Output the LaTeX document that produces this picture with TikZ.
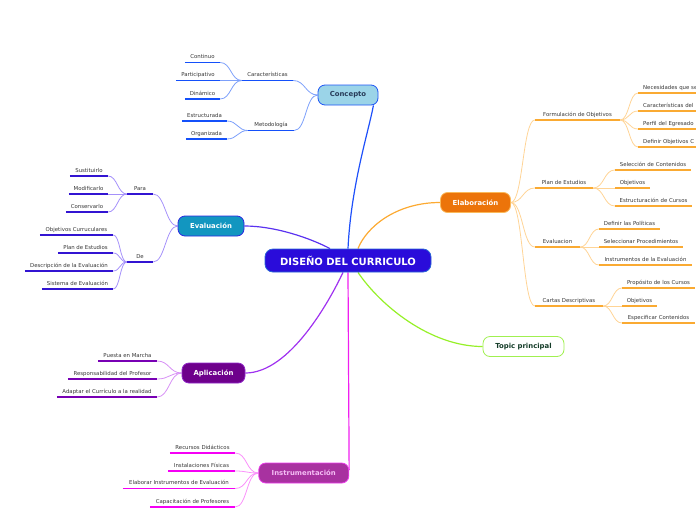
\documentclass[tikz,border=0pt]{standalone}
\usepackage{fontspec}
\setmainfont{DejaVu Sans}
\usetikzlibrary{backgrounds}
\definecolor{cenfill}{RGB}{42,12,218}
\definecolor{cenline}{RGB}{40,100,215}
\definecolor{konfill}{RGB}{155,212,232}
\definecolor{konline}{RGB}{30,85,245}
\definecolor{kontext}{RGB}{40,60,90}
\definecolor{elafill}{RGB}{236,116,10}
\definecolor{elaline}{RGB}{250,185,90}
\definecolor{evafill}{RGB}{18,150,192}
\definecolor{evaline}{RGB}{45,40,225}
\definecolor{aplfill}{RGB}{110,0,140}
\definecolor{aplline}{RGB}{145,40,200}
\definecolor{insfill}{RGB}{168,50,160}
\definecolor{insline}{RGB}{235,60,235}
\definecolor{instext}{RGB}{245,190,245}
\definecolor{topline}{RGB}{160,240,80}
\definecolor{toptext}{RGB}{20,60,40}
\definecolor{cK}{RGB}{30,80,250}
\definecolor{cE}{RGB}{252,170,50}
\definecolor{cT}{RGB}{150,240,40}
\definecolor{cV}{RGB}{90,50,240}
\definecolor{cA}{RGB}{160,50,240}
\definecolor{cI}{RGB}{240,30,240}
\definecolor{uK}{RGB}{20,80,250}
\definecolor{uV}{RGB}{50,20,210}
\definecolor{uA}{RGB}{120,0,180}
\definecolor{uI}{RGB}{245,0,245}
\definecolor{uE}{RGB}{250,170,50}
\definecolor{sK}{RGB}{125,160,250}
\definecolor{sV}{RGB}{165,145,250}
\definecolor{sA}{RGB}{215,145,245}
\definecolor{sI}{RGB}{250,145,250}
\definecolor{sE}{RGB}{255,212,150}
\definecolor{txt}{RGB}{55,55,55}
\begin{document}
\begin{tikzpicture}[x=1pt,y=-1pt,
  box/.style={rounded corners=7pt, line width=0.8pt, minimum height=20pt, inner sep=0pt,
    font=\bfseries\fontsize{6.9}{8}\selectfont},
  leaf/.style={anchor=south, inner xsep=0pt, inner ysep=2.5pt, text height=4pt, text depth=1.2pt,
    font=\fontsize{5.4}{6}\selectfont, text=txt},
  redge/.style={anchor=south west, inner xsep=5pt, text width=62pt, align=left},
  main/.style={line width=1.2pt},
  sub/.style={line width=0.8pt},
  ul/.style={line width=1.6pt}]
\useasboundingbox (0,0) rectangle (696,520);
\clip (0,0) rectangle (696,520);
% main topics
\node[rounded corners=8pt, line width=0.8pt, minimum width=166pt, minimum height=23pt, inner sep=0pt,
  fill=cenfill, draw=cenline, text=white, font=\bfseries\fontsize{10}{12}\selectfont]
  (C) at (348,260.5) {DISEÑO DEL CURRICULO};
\node[box, minimum width=60pt, fill=konfill, draw=konline, text=kontext] (K) at (348,95) {Concepto};
\node[box, minimum width=70pt, fill=elafill, draw=elaline, text=white] (E) at (475.5,202.5) {Elaboración};
\node[box, minimum width=81pt, fill=white, draw=topline, text=toptext] (T) at (523.5,346.5) {Topic principal};
\node[box, minimum width=66pt, fill=evafill, draw=evaline, text=white] (V) at (211,226) {Evaluación};
\node[box, minimum width=63pt, fill=aplfill, draw=aplline, text=white] (A) at (213.5,373) {Aplicación};
\node[box, minimum width=90pt, fill=insfill, draw=insline, text=instext] (I) at (303.75,473) {Instrumentación};
% Concepto group
\node[leaf, minimum width=51pt] (car) at (267.5,80.5) {Características};
\node[leaf, minimum width=46pt] (met) at (271,130.5) {Metodología};
\node[leaf, minimum width=35pt] (con) at (202.5,62.5) {Continuo};
\node[leaf, minimum width=44pt] (par) at (198,80.5) {Participativo};
\node[leaf, minimum width=35pt] (din) at (202.5,99) {Dinámico};
\node[leaf, minimum width=45pt] (est) at (204.5,121) {Estructurada};
\node[leaf, minimum width=41pt] (org) at (206.5,139) {Organizada};
% Evaluacion group
\node[leaf, minimum width=26pt] (para) at (140,194) {Para};
\node[leaf, minimum width=26pt] (de) at (140,262) {De};
\node[leaf, minimum width=38pt] (sus) at (89,176) {Sustituirlo};
\node[leaf, minimum width=39pt] (mod) at (88.5,194) {Modificarlo};
\node[leaf, minimum width=42pt] (cons) at (87,212) {Conservarlo};
\node[leaf, minimum width=73pt] (obj) at (76.5,235) {Objetivos Curruculares};
\node[leaf, minimum width=55pt] (plan) at (85.5,253) {Plan de Estudios};
\node[leaf, minimum width=88pt] (desc) at (69,271) {Descripción de la Evaluación};
\node[leaf, minimum width=71pt] (sis) at (77.5,289) {Sistema de Evaluación};
% Aplicacion group
\node[leaf, minimum width=59pt] (pm) at (127.5,361) {Puesta en Marcha};
\node[leaf, minimum width=89pt] (rp) at (112.5,379) {Responsabilidad del Profesor};
\node[leaf, minimum width=100pt] (ac) at (107,397) {Adaptar el Currículo a la realidad};
% Instrumentacion group
\node[leaf, minimum width=65pt] (rd) at (202.5,453) {Recursos Didácticos};
\node[leaf, minimum width=67pt] (inf) at (201.5,471) {Instalaciones Físicas};
\node[leaf, minimum width=112pt] (ei) at (179,488.5) {Elaborar Instrumentos de Evaluación};
\node[leaf, minimum width=85pt] (cp) at (192.5,507) {Capacitación de Profesores};
% Elaboracion group
\node[leaf, minimum width=85pt] (fo) at (577.5,120) {Formulación de Objetivos};
\node[leaf, minimum width=58pt] (pe) at (564,188) {Plan de Estudios};
\node[leaf, minimum width=45pt] (ev) at (557.5,247) {Evaluacion};
\node[leaf, minimum width=68pt] (cd) at (569,306) {Cartas Descriptivas};
\node[leaf, redge] (n1) at (638,93) {Necesidades que se};
\node[leaf, redge] (n2) at (638,111) {Características del};
\node[leaf, redge] (n3) at (638,129) {Perfil del Egresado};
\node[leaf, redge] (n4) at (638,147) {Definir Objetivos C};
\node[leaf, minimum width=76pt] (sc) at (653,170) {Selección de Contenidos};
\node[leaf, minimum width=35pt] (ob1) at (632.5,188) {Objetivos};
\node[leaf, minimum width=77pt] (ec) at (653.5,206) {Estructuración de Cursos};
\node[leaf, minimum width=61pt] (dp) at (629.5,229) {Definir las Políticas};
\node[leaf, minimum width=84pt] (sp) at (641,247) {Seleccionar Procedimientos};
\node[leaf, minimum width=93pt] (ie) at (645.5,265) {Instrumentos de la Evaluación};
\node[leaf, minimum width=73pt] (pc) at (658.5,288) {Propósito de los Cursos};
\node[leaf, minimum width=35pt] (ob2) at (639.5,306) {Objetivos};
\node[leaf, minimum width=73pt] (ecn) at (658.5,323) {Especificar Contenidos};
% underlines
\foreach \n in {car,met,con,par,din,est,org} \draw[ul,uK] (\n.south west) -- (\n.south east);
\foreach \n in {para,de,sus,mod,cons,obj,plan,desc,sis} \draw[ul,uV] (\n.south west) -- (\n.south east);
\foreach \n in {pm,rp,ac} \draw[ul,uA] (\n.south west) -- (\n.south east);
\foreach \n in {rd,inf,ei,cp} \draw[ul,uI] (\n.south west) -- (\n.south east);
\foreach \n in {fo,pe,ev,cd,n1,n2,n3,n4,sc,ob1,ec,dp,sp,ie,pc,ob2,ecn} \draw[ul,uE] (\n.south west) -- (\n.south east);
\begin{scope}[on background layer]
% main connectors
\draw[main,cK] (C.north) .. controls (351,185) and (369,130) .. ([xshift=-5pt]K.south east);
\draw[main,cE] ([xshift=10pt]C.north) .. controls (366,228) and (395,202.5) .. (E.west);
\draw[main,cT] ([xshift=10pt]C.south) .. controls (380,305) and (430,346.5) .. (T.west);
\draw[main,cV] (V.east) .. controls (275,226) and (310,238) .. ([xshift=-18pt]C.north);
\draw[main,cA] (A.east) .. controls (290,373) and (330,300) .. ([xshift=-5pt]C.south);
\draw[main,cI] (C.south) -- ([yshift=3pt]I.east);
% Concepto
\foreach \n in {car,met} \draw[sub,sK] (K.west) .. controls +(-12,0) and +(12,0) .. (\n.south east);
\foreach \n in {con,par,din} \draw[sub,sK] (car.south west) .. controls +(-11,0) and +(11,0) .. (\n.south east);
\foreach \n in {est,org} \draw[sub,sK] (met.south west) .. controls +(-10,0) and +(10,0) .. (\n.south east);
% Evaluacion
\foreach \n in {para,de} \draw[sub,sV] (V.west) .. controls +(-12,0) and +(12,0) .. (\n.south east);
\foreach \n in {sus,mod,cons} \draw[sub,sV] (para.south west) .. controls +(-9,0) and +(9,0) .. (\n.south east);
\foreach \n in {obj,plan,desc,sis} \draw[sub,sV] (de.south west) .. controls +(-7,0) and +(7,0) .. (\n.south east);
% Aplicacion
\foreach \n in {pm,rp,ac} \draw[sub,sA] (A.west) .. controls +(-12,0) and +(12,0) .. (\n.south east);
% Instrumentacion
\foreach \n in {rd,inf,ei,cp} \draw[sub,sI] (I.west) .. controls +(-12,0) and +(12,0) .. (\n.south east);
% Elaboracion
\foreach \n in {fo,pe,ev,cd} \draw[sub,sE] (E.east) .. controls +(12,0) and +(-12,0) .. (\n.south west);
\foreach \n in {n1,n2,n3,n4} \draw[sub,sE] (fo.south east) .. controls +(9,0) and +(-9,0) .. (\n.south west);
\foreach \n in {sc,ob1,ec} \draw[sub,sE] (pe.south east) .. controls +(11,0) and +(-11,0) .. (\n.south west);
\foreach \n in {dp,sp,ie} \draw[sub,sE] (ev.south east) .. controls +(9,0) and +(-9,0) .. (\n.south west);
\foreach \n in {pc,ob2,ecn} \draw[sub,sE] (cd.south east) .. controls +(9,0) and +(-9,0) .. (\n.south west);
\end{scope}
\end{tikzpicture}
\end{document}
